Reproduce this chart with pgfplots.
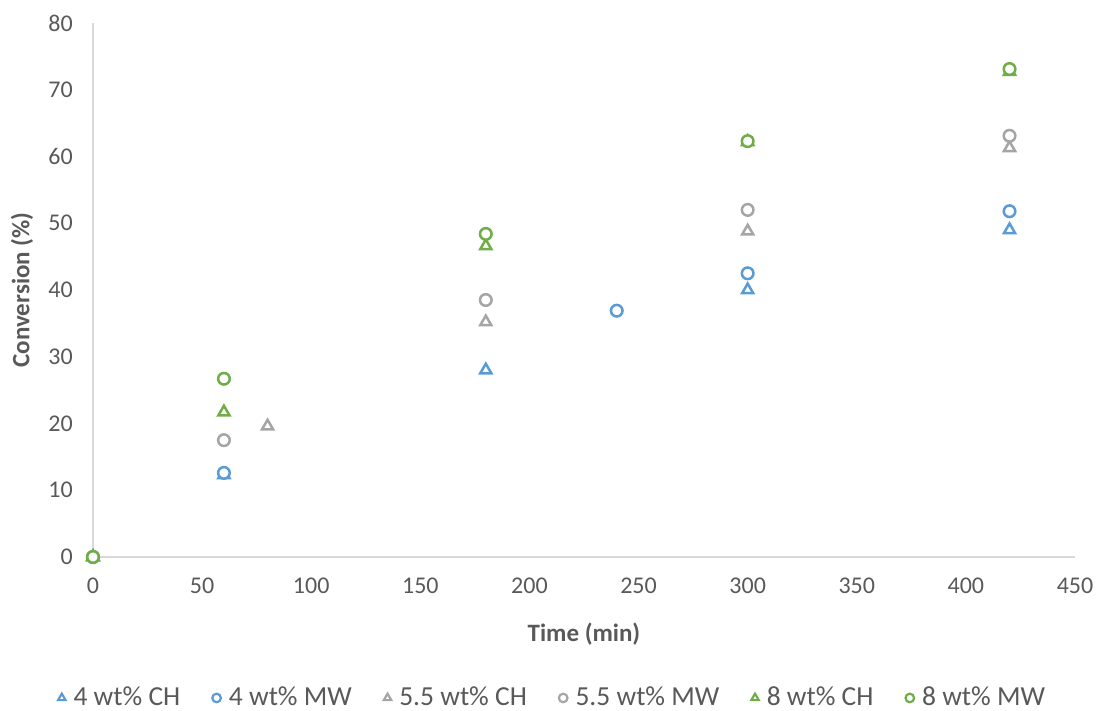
\documentclass[border=0pt]{standalone}
\usepackage{pgfplots}
\pgfplotsset{compat=1.18}
\usepackage{fontspec}
\setmainfont{Carlito}
\definecolor{cblue}{HTML}{5B9BD5}
\definecolor{cgray}{HTML}{A5A5A5}
\definecolor{cgreen}{HTML}{70AD47}
\definecolor{ctext}{HTML}{595959}
\definecolor{caxis}{HTML}{D9D9D9}
\begin{document}
\begin{tikzpicture}
\fontsize{24}{29}\selectfont
\useasboundingbox (0,0) rectangle (1098pt,711pt);
\begin{axis}[
  at={(93pt,154pt)}, anchor=south west,
  scale only axis,
  width=982pt, height=534pt,
  xmin=0, xmax=450, ymin=0, ymax=80,
  xtick={0,50,...,450}, ytick={0,10,...,80},
  axis lines*=left,
  axis line style={-, draw=caxis, line width=1.3pt},
  major tick length=0pt,
  tick style={draw=none},
  /pgf/number format/assume math mode=true,
  ticklabel style={font=\fontsize{24}{29}\selectfont, text=ctext},
  xticklabel style={yshift=-13pt},
  yticklabel style={xshift=-12pt},
  xlabel={\textbf{Time (min)}},
  ylabel={\textbf{Conversion (\%)}},
  label style={font=\fontsize{25}{30}\selectfont, text=ctext},
  xlabel style={at={(rel axis cs:0.5,0)}, yshift=-77pt, anchor=center},
  ylabel style={at={(rel axis cs:0,0.5)}, yshift=71pt, anchor=center},
  clip=false,
  legend columns=6,
  legend style={at={(0.468,-0.264)}, anchor=center, draw=none, fill=none,
    font=\fontsize{27.5}{33}\selectfont, text=ctext,
    /tikz/every odd column/.append style={column sep=6pt},
    /tikz/every even column/.append style={column sep=30pt}},
  legend image code/.code={\draw[#1] plot coordinates {(5pt,0pt)};},
  legend image post style={mark size=4.3pt, line width=2.2pt},
  every axis plot/.append style={only marks, line width=2.5pt, mark options={solid, fill=white}},
]
% 4 wt% CH
\addplot[cblue, mark=triangle*, mark size=6.4pt] coordinates {(0,0) (60,12.3) (180,28.0) (300,40.0) (420,49.0)};
\addlegendentry{4 wt\% CH}
% 4 wt% MW
\addplot[cblue, mark=*, mark size=5.8pt] coordinates {(0,0) (60,12.6) (240,36.9) (300,42.5) (420,51.8)};
\addlegendentry{4 wt\% MW}
% 5.5 wt% CH
\addplot[cgray, mark=triangle*, mark size=6.4pt] coordinates {(0,0) (80,19.6) (180,35.2) (300,48.8) (420,61.3)};
\addlegendentry{5.5 wt\% CH}
% 5.5 wt% MW
\addplot[cgray, mark=*, mark size=5.8pt] coordinates {(0,0) (60,17.5) (180,38.5) (300,52.0) (420,63.1)};
\addlegendentry{5.5 wt\% MW}
% 8 wt% CH
\addplot[cgreen, mark=triangle*, mark size=6.4pt] coordinates {(0,0) (60,21.7) (180,46.6) (300,62.2) (420,72.7)};
\addlegendentry{8 wt\% CH}
% 8 wt% MW
\addplot[cgreen, mark=*, mark size=5.8pt] coordinates {(0,0) (60,26.7) (180,48.4) (300,62.3) (420,73.1)};
\addlegendentry{8 wt\% MW}
\end{axis}
\end{tikzpicture}
\end{document}
